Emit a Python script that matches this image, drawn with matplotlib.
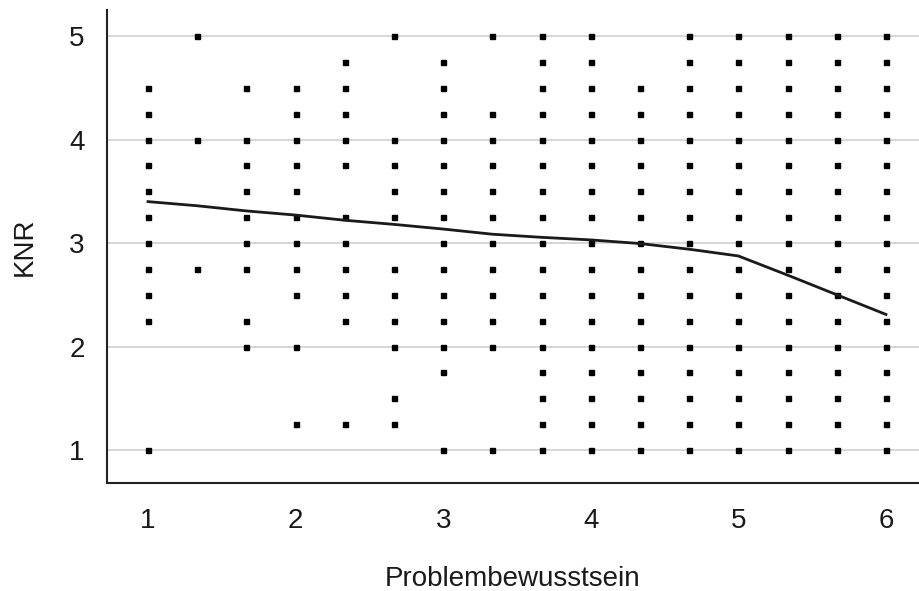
import matplotlib
matplotlib.use("Agg")
import matplotlib.pyplot as plt

plt.rcParams['font.family'] = ['Liberation Sans', 'DejaVu Sans']

# x levels of Problembewusstsein (steps of 1/3)
x_levels = [1, 4/3, 5/3, 2, 7/3, 8/3, 3, 10/3, 11/3, 4, 13/3, 14/3, 5, 16/3, 17/3, 6]

all_y = [5, 4.75, 4.5, 4.25, 4, 3.75, 3.5, 3.25, 3, 2.75, 2.5, 2.25, 2, 1.75, 1.5, 1.25, 1]

# KNR values observed at each x level
y_at_x = [
    [4.5, 4.25, 4, 3.75, 3.5, 3.25, 3, 2.75, 2.5, 2.25, 1],
    [5, 4, 2.75],
    [4.5, 4, 3.75, 3.5, 3.25, 3, 2.75, 2.25, 2],
    [4.5, 4.25, 4, 3.75, 3.5, 3.25, 3, 2.75, 2.5, 2, 1.25],
    [4.75, 4.5, 4.25, 4, 3.75, 3.25, 3, 2.75, 2.5, 2.25, 1.25],
    [5, 4, 3.75, 3.5, 3.25, 2.75, 2.5, 2.25, 2, 1.5, 1.25],
    [4.75, 4.5, 4.25, 4, 3.75, 3.5, 3.25, 3, 2.75, 2.5, 2.25, 2, 1.75, 1],
    [5, 4.25, 4, 3.75, 3.5, 3.25, 3, 2.75, 2.5, 2.25, 2, 1],
    all_y,
    all_y,
    [4.5, 4.25, 4, 3.75, 3.5, 3.25, 3, 2.75, 2.5, 2.25, 2, 1.75, 1.5, 1.25, 1],
    all_y,
    all_y,
    all_y,
    all_y,
    all_y,
]

# smoothed trend line values at each x level
trend = [3.40, 3.36, 3.31, 3.27, 3.22, 3.18, 3.135, 3.085, 3.055, 3.03, 2.995, 2.94, 2.875, 2.69, 2.50, 2.31]

x_ticks = [1, 2, 3, 4, 5, 6]
y_ticks = [1, 2, 3, 4, 5]

fig = plt.figure(figsize=(9.19, 5.91), dpi=100)
ax = fig.add_axes([0.1164, 0.1827, 0.8836, 0.8003])

px, py = [], []
for xv, ys in zip(x_levels, y_at_x):
    for yv in ys:
        px.append(xv)
        py.append(yv)

ax.plot(px, py, linestyle='none', marker='s', markersize=3.6, color='black', zorder=3)
ax.plot(x_levels, trend, color='#1a1a1a', linewidth=2.0, zorder=4)

ax.set_xlim(0.722, 6.224)
ax.set_ylim(0.681, 5.251)
ax.set_xticks(x_ticks)
ax.set_yticks(y_ticks)
ax.grid(axis='y', color='#cfcfcf', linewidth=1.2, zorder=0)
ax.set_axisbelow(True)

for s in ['top', 'right']:
    ax.spines[s].set_visible(False)
for s in ['left', 'bottom']:
    ax.spines[s].set_color('#222222')
    ax.spines[s].set_linewidth(1.5)

ax.tick_params(axis='x', length=0, pad=18, labelsize=20, labelcolor='#1a1a1a')
ax.tick_params(axis='y', length=0, pad=16, labelsize=20, labelcolor='#1a1a1a')

ax.set_xlabel('Problembewusstsein', fontsize=20, color='#1a1a1a', labelpad=23)
ax.set_ylabel('KNR', fontsize=20, color='#1a1a1a', labelpad=23)

fig.savefig('out.png', dpi=100)
